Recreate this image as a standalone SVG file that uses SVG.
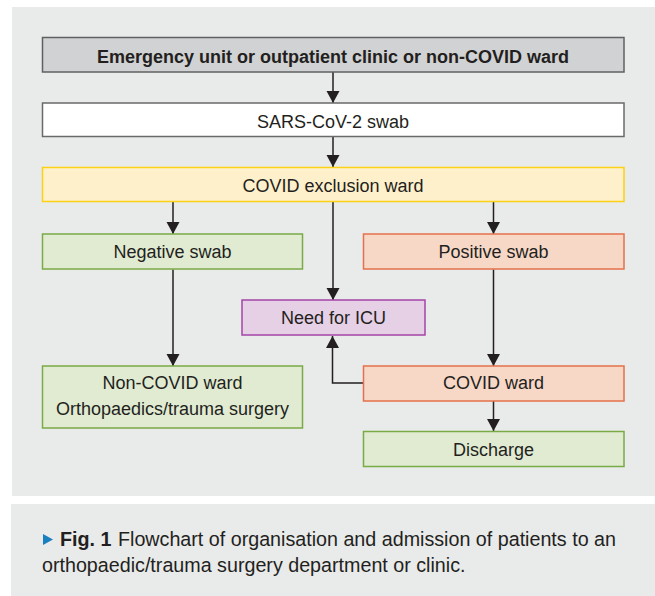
<svg xmlns="http://www.w3.org/2000/svg" width="655" height="596" viewBox="0 0 655 596">
<style>
.box{stroke-width:1.5}
.t{font-family:"Liberation Sans",Arial,sans-serif;font-size:18px;fill:#231f20;text-anchor:middle}
.b{font-weight:bold}
.cap{font-family:"Liberation Sans",Arial,sans-serif;font-size:19.7px;fill:#231f20}
.gray{fill:#d1d2d3;stroke:#606060}
.white{fill:#ffffff;stroke:#6a6a6a}
.yellow{fill:#fff0cc;stroke:#fcd116}
.green{fill:#e0ebd2;stroke:#7aaa45}
.orange{fill:#f7d8c7;stroke:#e5704a}
.purple{fill:#e6d0e6;stroke:#a544a8}
.conn path{fill:none;stroke:#231f20;stroke-width:1.5}
</style>
<defs>
<marker id="ah" markerUnits="userSpaceOnUse" markerWidth="14" markerHeight="14" refX="12" refY="6.5" orient="auto">
<path d="M0,0 L12,6.5 L0,13 z" fill="#231f20"/>
</marker>
</defs>
<rect x="12" y="7" width="643" height="489" fill="#e9eaea"/>
<rect x="11" y="504" width="644" height="92" fill="#e9eaea"/>

<g class="conn">
<path d="M333,72 V103" marker-end="url(#ah)"/>
<path d="M333,136.5 V167" marker-end="url(#ah)"/>
<path d="M173,202 V234" marker-end="url(#ah)"/>
<path d="M493.5,202 V234" marker-end="url(#ah)"/>
<path d="M333,202 V300" marker-end="url(#ah)"/>
<path d="M173,269.5 V366" marker-end="url(#ah)"/>
<path d="M493.5,269.5 V366" marker-end="url(#ah)"/>
<path d="M363,383 H332.5 V336" marker-end="url(#ah)"/>
<path d="M493.5,401 V431" marker-end="url(#ah)"/>
</g>

<g id="emergency">
<rect class="box gray" x="42.5" y="37.5" width="581.5" height="34.5"/>
<text class="t b" x="333" y="62.5" font-size="18.5">Emergency unit or outpatient clinic or non-COVID ward</text>
</g>
<g id="swab">
<rect class="box white" x="42.5" y="103" width="581.5" height="33.5"/>
<text class="t" x="333" y="128">SARS-CoV-2 swab</text>
</g>
<g id="exclusion">
<rect class="box yellow" x="42.5" y="167.5" width="581.5" height="34"/>
<text class="t" x="333" y="191.5">COVID exclusion ward</text>
</g>
<g id="negative">
<rect class="box green" x="42.5" y="234" width="260" height="35"/>
<text class="t" x="172.5" y="257.5">Negative swab</text>
</g>
<g id="positive">
<rect class="box orange" x="363.5" y="234" width="260.5" height="35"/>
<text class="t" x="493.5" y="257.5">Positive swab</text>
</g>
<g id="icu">
<rect class="box purple" x="242" y="300" width="183" height="35"/>
<text class="t" x="333.5" y="323.5">Need for ICU</text>
</g>
<g id="noncovid">
<rect class="box green" x="42.5" y="366" width="260" height="62"/>
<text class="t" x="172.5" y="389">Non-COVID ward</text>
<text class="t" x="172.5" y="415">Orthopaedics/trauma surgery</text>
</g>
<g id="covidward">
<rect class="box orange" x="363.5" y="366" width="260.5" height="35"/>
<text class="t" x="493.5" y="389">COVID ward</text>
</g>
<g id="discharge">
<rect class="box green" x="363.5" y="431.5" width="260.5" height="35"/>
<text class="t" x="493.5" y="456">Discharge</text>
</g>

<g id="caption">
<polygon points="43,534 53,539.5 43,545" fill="#1a7fc1"/>
<text class="cap" x="60" y="546"><tspan font-weight="bold">Fig. 1</tspan><tspan x="118">Flowchart of organisation and admission of patients to an</tspan></text>
<text class="cap" x="42" y="572">orthopaedic/trauma surgery department or clinic.</text>
</g>
</svg>
